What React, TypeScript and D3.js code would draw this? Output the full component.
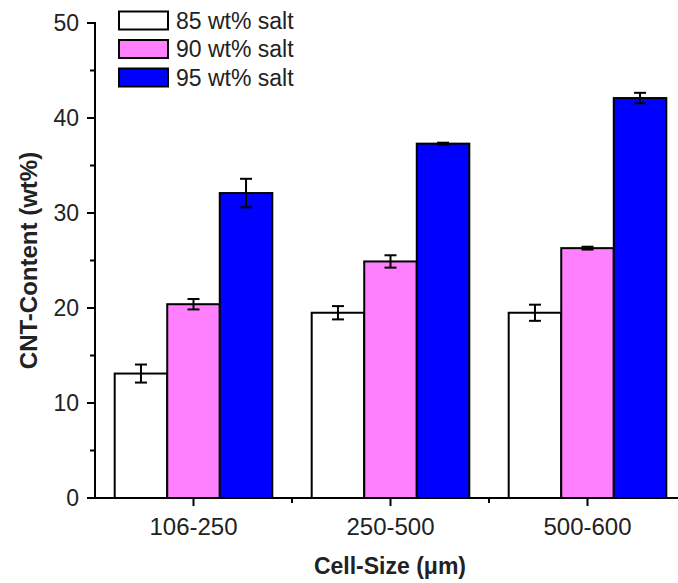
import React from "react";
import * as d3 from "d3";

const categories = ["106-250", "250-500", "500-600"];
const seriesNames = ["85 wt% salt", "90 wt% salt", "95 wt% salt"];
const seriesColors = ["#FFFFFF", "#FF80FF", "#0000FF"];
const salt85 = [13.1, 19.5, 19.5];
const salt90 = [20.4, 24.9, 26.3];
const salt95 = [32.1, 37.3, 42.1];
const err85 = [0.95, 0.7, 0.85];
const err90 = [0.55, 0.65, 0.15];
const err95 = [1.5, 0.1, 0.55];
const yTicks = [0, 10, 20, 30, 40, 50];
const yMinorTicks = [5, 15, 25, 35, 45];

const values = [salt85, salt90, salt95];
const errors = [err85, err90, err95];

const W = 678;
const H = 583;
const FONT = "Liberation Sans, Arial, sans-serif";

export default function App() {
  const x = d3.scaleBand<string>().domain(categories).range([95, 686]).padding(0);
  const bw = x.bandwidth();
  const xs = d3
    .scaleBand<string>()
    .domain(seriesNames)
    .range([bw * 0.1, bw * 0.9])
    .padding(0);
  const y = d3.scaleLinear().domain([0, 50]).range([498, 23]);
  const y0 = y(0);
  const capW = 12;

  const boundaries = categories.map((c) => (x(c) as number) + bw);

  return (
    <svg
      width={W}
      height={H}
      style={{ position: "absolute", left: 0, top: 0, background: "#fff" }}
      fontFamily={FONT}
    >
      <rect x={0} y={0} width={W} height={H} fill="#fff" />
      {/* bars */}
      {categories.map((c, ci) =>
        seriesNames.map((s, si) => {
          const bx = (x(c) as number) + (xs(s) as number);
          const v = values[si][ci];
          return (
            <rect
              key={c + s}
              x={bx}
              y={y(v)}
              width={xs.bandwidth()}
              height={y0 - y(v)}
              fill={seriesColors[si]}
              stroke="#000"
              strokeWidth={2}
            />
          );
        })
      )}
      {/* error bars */}
      {categories.map((c, ci) =>
        seriesNames.map((s, si) => {
          const cx = (x(c) as number) + (xs(s) as number) + xs.bandwidth() / 2;
          const v = values[si][ci];
          const e = errors[si][ci];
          const yt = y(v + e);
          const yb = y(v - e);
          return (
            <g key={"e" + c + s} stroke="#000" strokeWidth={2}>
              <line x1={cx} x2={cx} y1={yt} y2={yb} />
              <line x1={cx - capW / 2} x2={cx + capW / 2} y1={yt} y2={yt} />
              <line x1={cx - capW / 2} x2={cx + capW / 2} y1={yb} y2={yb} />
            </g>
          );
        })
      )}
      {/* y axis */}
      <g stroke="#000" strokeWidth={2}>
        <line x1={95} x2={95} y1={y(50) - 1} y2={y0 + 1} />
        {yTicks.map((t) => (
          <line key={"yt" + t} x1={87} x2={95} y1={y(t)} y2={y(t)} />
        ))}
        {yMinorTicks.map((t) => (
          <line key={"ym" + t} x1={90} x2={95} y1={y(t)} y2={y(t)} />
        ))}
      </g>
      {yTicks.map((t) => (
        <text
          key={"yl" + t}
          x={79}
          y={y(t)}
          dy="0.36em"
          textAnchor="end"
          fontSize={23}
          fill="#222"
        >
          {t}
        </text>
      ))}
      {/* x axis */}
      <g stroke="#000" strokeWidth={2}>
        <line x1={94} x2={W} y1={y0} y2={y0} />
        {categories.map((c) => {
          const cx = (x(c) as number) + bw / 2;
          return <line key={"xt" + c} x1={cx} x2={cx} y1={y0} y2={y0 + 8} />;
        })}
        {boundaries.map((b, i) => (
          <line key={"xm" + i} x1={b} x2={b} y1={y0} y2={y0 + 5} />
        ))}
      </g>
      {categories.map((c) => (
        <text
          key={"xl" + c}
          x={(x(c) as number) + bw / 2}
          y={526}
          dy="0.36em"
          textAnchor="middle"
          fontSize={24}
          fill="#222"
        >
          {c}
        </text>
      ))}
      {/* axis titles */}
      <text
        x={390}
        y={566}
        dy="0.36em"
        textAnchor="middle"
        fontSize={23}
        fontWeight="bold"
        fill="#222"
      >
        Cell-Size (μm)
      </text>
      <text
        transform={`translate(28, ${y(25)}) rotate(-90)`}
        dy="0.36em"
        textAnchor="middle"
        fontSize={24}
        fontWeight="bold"
        fill="#222"
      >
        CNT-Content (wt%)
      </text>
      {/* legend */}
      {seriesNames.map((s, i) => {
        const cy = 20.5 + i * 28.5;
        return (
          <g key={"lg" + s}>
            <rect
              x={119}
              y={cy - 9}
              width={49}
              height={18}
              fill={seriesColors[i]}
              stroke="#000"
              strokeWidth={2}
            />
            <text x={176} y={cy} dy="0.36em" fontSize={23} fill="#222">
              {s}
            </text>
          </g>
        );
      })}
    </svg>
  );
}
